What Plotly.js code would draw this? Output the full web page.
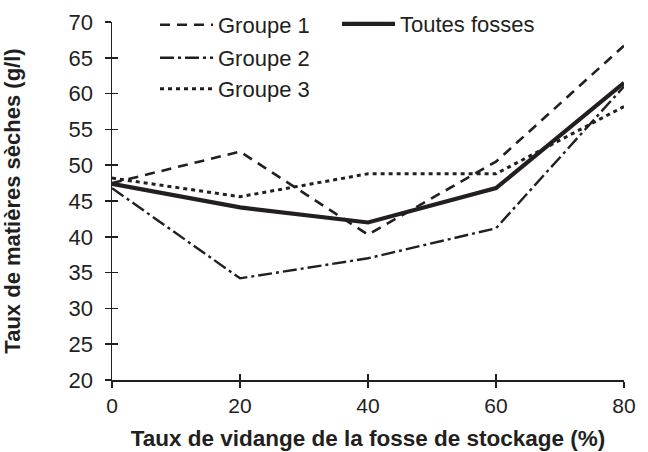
<!DOCTYPE html>
<html>
<head>
<meta charset="utf-8">
<script src="https://cdn.plot.ly/plotly-3.0.1.min.js"></script>
<style>html,body{margin:0;padding:0;background:#fff}#chart{width:648px;height:452px}</style>
</head>
<body>
<div id="chart"></div>
<script>
const taux = [0, 20, 40, 60, 80];
const groupe1 = [47.5, 51.9, 40.3, 50.5, 66.7];
const groupe2 = [46.8, 34.2, 37.0, 41.2, 61.0];
const groupe3 = [48.2, 45.6, 48.8, 48.8, 58.2];
const toutes = [47.4, 44.1, 42.0, 46.8, 61.5];
const yTicks = [20, 25, 30, 35, 40, 45, 50, 55, 60, 65, 70];
const xTicks = [0, 20, 40, 60, 80];

const ink = '#231f20';
const traces = [
  {x: taux, y: toutes, xaxis: 'x2', yaxis: 'y2', showlegend: false, hoverinfo: 'skip', mode: 'lines', line: {width: 0}, opacity: 0},
  {x: taux, y: groupe1, name: 'Groupe 1', mode: 'lines', line: {color: ink, width: 2.6, dash: '10px,7px'}, legend: 'legend'},
  {x: taux, y: groupe2, name: 'Groupe 2', mode: 'lines', line: {color: ink, width: 2.4, dash: '14px,4px,3px,4px'}, legend: 'legend2'},
  {x: taux, y: groupe3, name: 'Groupe 3', mode: 'lines', line: {color: ink, width: 3, dash: '4px,4px'}, legend: 'legend3'},
  {x: taux, y: toutes, name: 'Toutes fosses', mode: 'lines', line: {color: ink, width: 4.2}, legend: 'legend4'}
];

const fontFam = '"Liberation Sans", Arial, sans-serif';
const PL = 112, PT = 22, PW = 512, PH = 358;
function leg(px, py) {
  return {x: (px - PL) / PW, y: 1 - (py - PT) / PH, xref: 'paper', yref: 'paper',
          xanchor: 'left', yanchor: 'middle', bgcolor: 'rgba(0,0,0,0)',
          font: {size: 22, color: ink}, itemwidth: 53, borderwidth: 0};
}
const axCommon = {
  showgrid: false, zeroline: false, showline: true, linecolor: ink, linewidth: 1.5,
  ticklen: 6, tickcolor: ink, tickwidth: 1.5
};
const layout = {
  width: 648, height: 452,
  margin: {l: PL, r: 648 - PL - PW, t: PT, b: 452 - PT - PH, autoexpand: false},
  paper_bgcolor: '#fff', plot_bgcolor: '#fff',
  font: {family: fontFam, size: 21, color: ink},
  showlegend: true,
  legend: leg(155, 25),
  legend2: leg(155, 58),
  legend3: leg(155, 89),
  legend4: leg(337, 24),
  xaxis: Object.assign({}, axCommon, {
    range: [0, 80], tickvals: xTicks, ticktext: xTicks.map(String),
    ticks: 'outside', tickfont: {size: 21}, automargin: false,
    title: {text: '<b>Taux de vidange de la fosse de stockage (%)</b>', font: {size: 22.5}, standoff: 14}
  }),
  yaxis: Object.assign({}, axCommon, {
    range: [20, 70], tickvals: yTicks, ticktext: yTicks.map(String),
    ticks: 'outside', tickfont: {size: 22}, automargin: false, ticklabelstandoff: 7,
    title: {text: '<b>Taux de matières sèches (g/l)</b>', font: {size: 22}, standoff: 43}
  }),
  xaxis2: Object.assign({}, axCommon, {
    range: [0, 80], tickvals: xTicks, ticks: 'inside', showticklabels: false,
    overlaying: 'x', anchor: 'y2', side: 'bottom'
  }),
  yaxis2: Object.assign({}, axCommon, {
    range: [20, 70], tickvals: yTicks, ticks: 'inside', showticklabels: false,
    overlaying: 'y', anchor: 'x2', side: 'left'
  })
};
Plotly.newPlot('chart', traces, layout, {displayModeBar: false, staticPlot: true});
</script>
</body>
</html>
